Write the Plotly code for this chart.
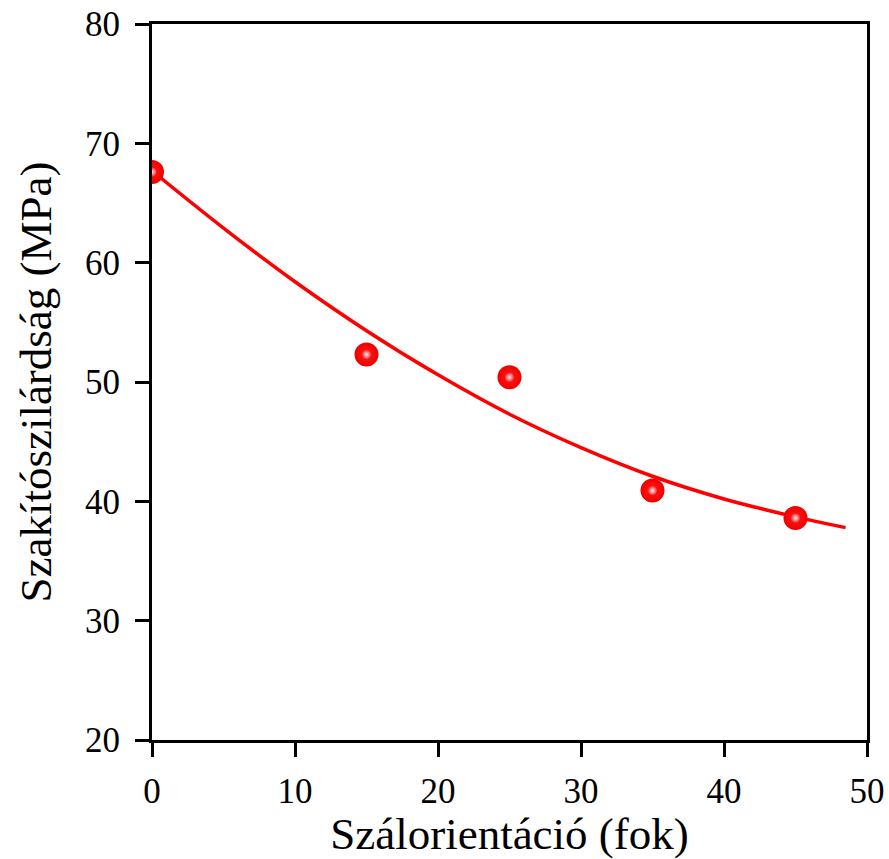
import plotly.graph_objects as go

# Measured points
angle_deg = [0, 15, 25, 35, 45]
strength_mpa = [67.6, 52.3, 50.4, 40.9, 38.6]

# Fitted curve
fit_x = [0, 5, 10, 15, 20, 25, 30, 35, 40, 45, 48.5]
fit_y = [67.7, 62.9, 58.4, 54.3, 50.6, 47.3, 44.5, 42.1, 40.2, 38.7, 37.8]

x_ticks = [0, 10, 20, 30, 40, 50]
y_ticks = [20, 30, 40, 50, 60, 70, 80]

FONT = "Liberation Serif, Times New Roman, serif"

fig = go.Figure()
fig.add_trace(go.Scatter(
    x=fit_x, y=fit_y, mode="lines",
    line=dict(color="#ff0000", width=3.5, shape="spline"),
    showlegend=False, hoverinfo="skip",
))
fig.add_trace(go.Scatter(
    x=angle_deg, y=strength_mpa, mode="markers",
    marker=dict(size=24, color="#f00000",
                gradient=dict(type="radial", color="#ff1a1a"),
                line=dict(width=0)),
    showlegend=False,
))
fig.add_trace(go.Scatter(
    x=angle_deg, y=strength_mpa, mode="markers",
    marker=dict(size=9, color="#ff3030",
                gradient=dict(type="radial", color="#ffecec"),
                line=dict(width=0)),
    showlegend=False, hoverinfo="skip",
))

axis_common = dict(
    showline=True, linecolor="black", linewidth=3, mirror=True,
    ticks="outside", ticklen=14, tickwidth=3, tickcolor="black",
    showgrid=False, zeroline=False, automargin=False,
    tickfont=dict(family=FONT, size=35, color="black"),
)

fig.update_xaxes(
    range=[0, 50], tickvals=x_ticks, ticktext=[str(v) for v in x_ticks],
    title=dict(text="Szálorientáció (fok)", font=dict(family=FONT, size=45, color="black"), standoff=8),
    ticklabelstandoff=4,
    **axis_common,
)
fig.update_yaxes(
    range=[20, 80], tickvals=y_ticks, ticktext=[str(v) for v in y_ticks],
    title=dict(text="Szakítószilárdság (MPa)", font=dict(family=FONT, size=45, color="black"), standoff=20),
    ticklabelstandoff=8,
    **axis_common,
)

fig.update_layout(
    width=889, height=859,
    margin=dict(l=152, r=22, t=24, b=119),
    paper_bgcolor="white", plot_bgcolor="white",
)

fig.write_html("out.html")
